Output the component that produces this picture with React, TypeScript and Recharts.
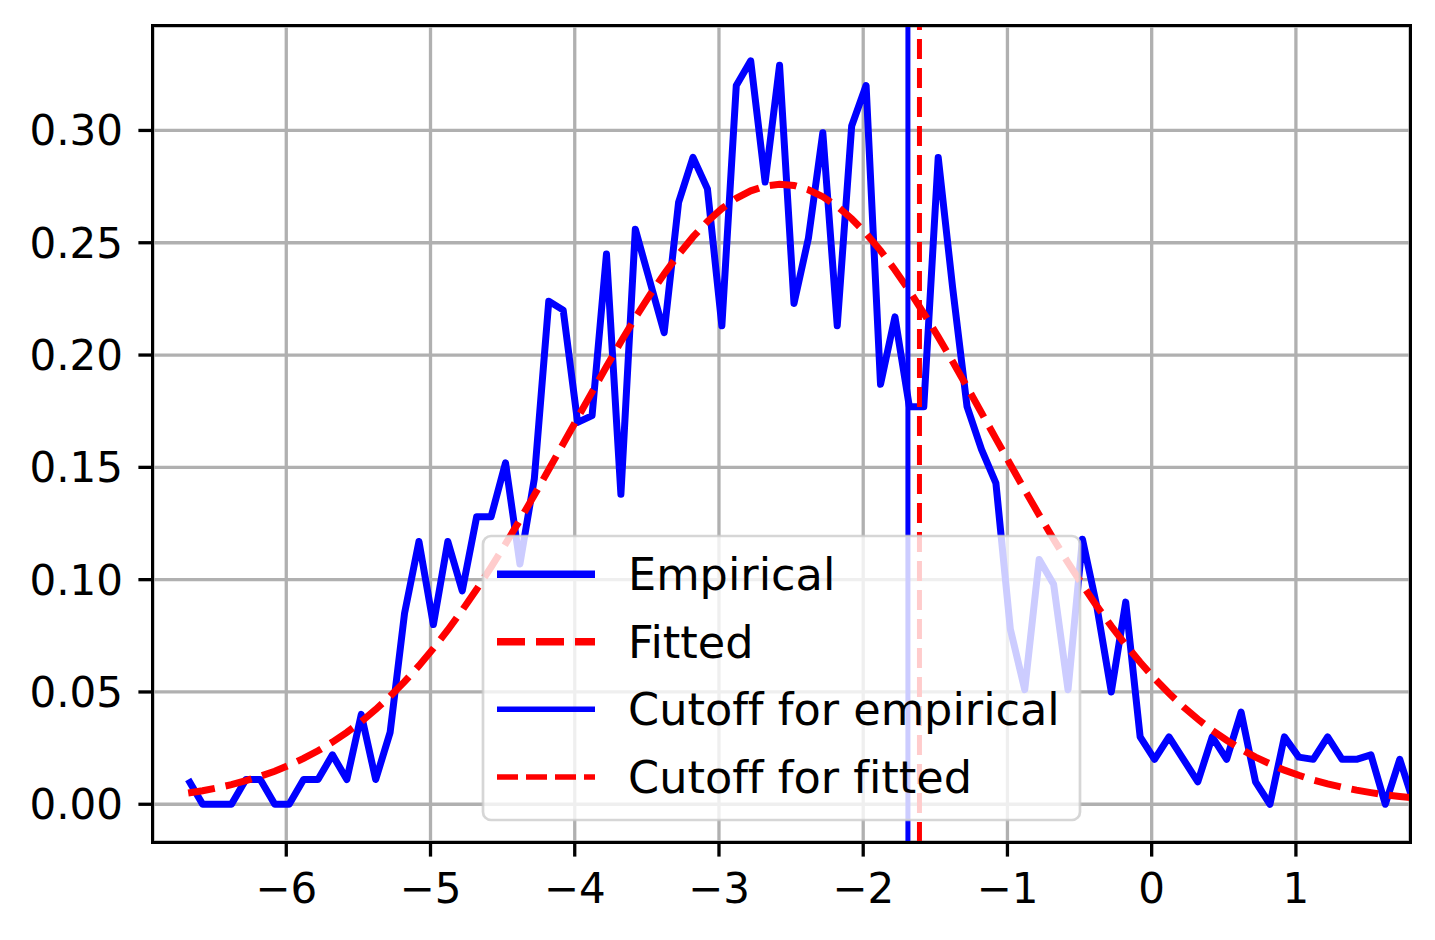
import React from "react";
import {
  LineChart,
  Line,
  XAxis,
  YAxis,
  CartesianGrid,
  ReferenceLine,
} from "recharts";

// bin centres of the histogram
const xs = [
  -6.68, -6.58, -6.48, -6.38, -6.28, -6.18, -6.08, -5.98, -5.88, -5.78,
  -5.68, -5.58, -5.48, -5.38, -5.28, -5.18, -5.08, -4.98, -4.88, -4.78,
  -4.68, -4.58, -4.48, -4.38, -4.28, -4.18, -4.08, -3.98, -3.88, -3.78,
  -3.68, -3.58, -3.48, -3.38, -3.28, -3.18, -3.08, -2.98, -2.88, -2.78,
  -2.68, -2.58, -2.48, -2.38, -2.28, -2.18, -2.08, -1.98, -1.88, -1.78,
  -1.68, -1.58, -1.48, -1.38, -1.28, -1.18, -1.08, -0.98, -0.88, -0.78,
  -0.68, -0.58, -0.48, -0.38, -0.28, -0.18, -0.08, 0.02, 0.12, 0.22,
  0.32, 0.42, 0.52, 0.62, 0.72, 0.82, 0.92, 1.02, 1.12, 1.22,
  1.32, 1.42, 1.52, 1.62, 1.72, 1.82,
];

const empirical = [
  0.011, 0, 0, 0, 0.011, 0.011, 0, 0, 0.011, 0.011,
  0.022, 0.011, 0.04, 0.011, 0.032, 0.085, 0.117, 0.08, 0.117, 0.095,
  0.128, 0.128, 0.152, 0.107, 0.145, 0.224, 0.22, 0.17, 0.173, 0.245,
  0.138, 0.256, 0.233, 0.21, 0.268, 0.288, 0.274, 0.213, 0.32, 0.331,
  0.277, 0.329, 0.223, 0.252, 0.299, 0.213, 0.302, 0.32, 0.187, 0.217,
  0.177, 0.177, 0.288, 0.23, 0.177, 0.158, 0.143, 0.078, 0.051, 0.109,
  0.098, 0.051, 0.118, 0.088, 0.05, 0.09, 0.03, 0.02, 0.03, 0.02,
  0.01, 0.03, 0.02, 0.041, 0.01, 0, 0.03, 0.021, 0.02, 0.03,
  0.02, 0.02, 0.022, 0, 0.02, 0,
];

const fitted = [
  0.005, 0.006, 0.0073, 0.0087, 0.0105, 0.0125, 0.0147, 0.0174, 0.0204, 0.0238,
  0.0277, 0.032, 0.0368, 0.0422, 0.0481, 0.0546, 0.0617, 0.0694, 0.0776, 0.0864,
  0.0957, 0.1056, 0.1159, 0.1266, 0.1377, 0.149, 0.1605, 0.172, 0.1835, 0.1949,
  0.2059, 0.2166, 0.2267, 0.2361, 0.2448, 0.2526, 0.2595, 0.2652, 0.2698, 0.2731,
  0.2752, 0.276, 0.2755, 0.2736, 0.2705, 0.2662, 0.2607, 0.2541, 0.2465, 0.2379,
  0.2286, 0.2186, 0.2081, 0.1971, 0.1858, 0.1743, 0.1628, 0.1513, 0.1399, 0.1288,
  0.118, 0.1076, 0.0977, 0.0882, 0.0793, 0.071, 0.0632, 0.056, 0.0494, 0.0434,
  0.0379, 0.0329, 0.0285, 0.0245, 0.021, 0.018, 0.0152, 0.0129, 0.0108, 0.0091,
  0.0076, 0.0063, 0.0052, 0.0042, 0.0035, 0.0028,
];

const cutoffEmpirical = -1.69;
const cutoffFitted = -1.61;

const xTicks = [-6, -5, -4, -3, -2, -1, 0, 1];
const yTicks = [0, 0.05, 0.1, 0.15, 0.2, 0.25, 0.3];

const legendItems = [
  { label: "Empirical", color: "#0000ff", width: 7.5, dash: undefined },
  { label: "Fitted", color: "#ff0000", width: 7.5, dash: "28 11" },
  { label: "Cutoff for empirical", color: "#0000ff", width: 5.5, dash: undefined },
  { label: "Cutoff for fitted", color: "#ff0000", width: 5.5, dash: "21 8" },
];

const W = 1435;
const H = 940;
const PLOT = { left: 153, top: 26, width: 1257, height: 816 };
const FONT = "DejaVu Sans";
const SPINE = 3.3;

const data = xs.map((x, i) => ({ x, emp: empirical[i], fit: fitted[i] }));

const fmtX = (v: number) => String(v).replace("-", "\u2212");
const fmtY = (v: number) => v.toFixed(2);

function LegendBox() {
  const rows = [40.3, 107.7, 175.3, 243];
  return (
    <svg
      width={601}
      height={288}
      style={{ position: "absolute", left: 481, top: 534 }}
    >
      <rect
        x={2}
        y={2}
        width={597}
        height={284}
        rx={8}
        fill="#ffffff"
        fillOpacity={0.8}
        stroke="#cccccc"
        strokeOpacity={0.8}
        strokeWidth={2.7}
      />
      {legendItems.map((it, i) => (
        <g key={it.label}>
          <line
            x1={16}
            x2={114}
            y1={rows[i]}
            y2={rows[i]}
            stroke={it.color}
            strokeWidth={it.width}
            strokeDasharray={it.dash}
          />
          <text
            x={147}
            y={rows[i] + 16}
            fontFamily={FONT}
            fontSize={44.6}
            fill="#000"
            style={{ fontVariantLigatures: "none" }}
          >
            {it.label}
          </text>
        </g>
      ))}
    </svg>
  );
}

export default function App() {
  const tickStyle = { fill: "#000", fontSize: 42, fontFamily: FONT };
  const tickLine = { stroke: "#000", strokeWidth: SPINE };
  return (
    <div
      style={{
        position: "absolute",
        left: 0,
        top: 0,
        width: W,
        height: H,
        background: "#fff",
      }}
    >
      <LineChart
        width={W}
        height={H}
        data={data}
        margin={{
          top: PLOT.top,
          right: W - PLOT.left - PLOT.width,
          bottom: 0,
          left: 0,
        }}
      >
        <CartesianGrid stroke="#b0b0b0" strokeWidth={3.3} />
        <XAxis
          dataKey="x"
          type="number"
          domain={[-6.924, 1.791]}
          allowDataOverflow
          ticks={xTicks}
          interval={0}
          tickFormatter={fmtX}
          height={H - PLOT.top - PLOT.height}
          tickSize={14.6}
          tickMargin={16.5}
          tick={tickStyle}
          tickLine={tickLine}
          axisLine={false}
        />
        <YAxis
          type="number"
          domain={[-0.0168, 0.3465]}
          allowDataOverflow
          ticks={yTicks}
          interval={0}
          tickFormatter={fmtY}
          width={PLOT.left}
          tickSize={14.6}
          tickMargin={15.4}
          tick={tickStyle}
          tickLine={tickLine}
          axisLine={false}
        />
        <Line
          dataKey="emp"
          stroke="#0000ff"
          strokeWidth={7}
          strokeLinejoin="round"
          dot={false}
          isAnimationActive={false}
        />
        <Line
          dataKey="fit"
          stroke="#ff0000"
          strokeWidth={7}
          strokeDasharray="27 11"
          dot={false}
          isAnimationActive={false}
        />
        <ReferenceLine x={cutoffEmpirical} stroke="#0000ff" strokeWidth={5} />
        <ReferenceLine
          x={cutoffFitted}
          stroke="#ff0000"
          strokeWidth={5}
          strokeDasharray="20 9"
        />
      </LineChart>
      <div
        style={{
          position: "absolute",
          left: PLOT.left - SPINE / 2,
          top: PLOT.top - SPINE / 2,
          width: PLOT.width + SPINE,
          height: PLOT.height + SPINE,
          border: `${SPINE}px solid #000`,
          boxSizing: "border-box",
          pointerEvents: "none",
        }}
      />
      <LegendBox />
    </div>
  );
}
